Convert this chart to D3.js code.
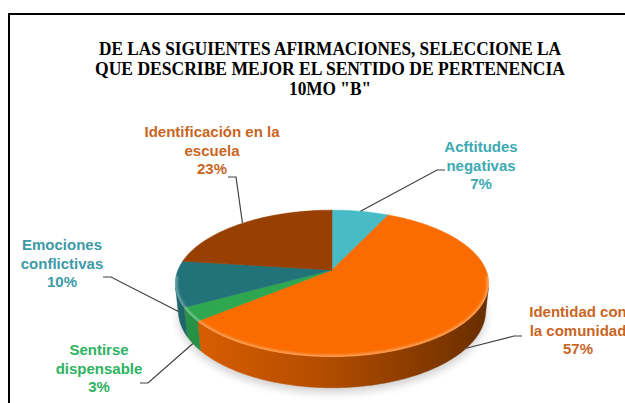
<!DOCTYPE html>
<html>
<head>
<meta charset="utf-8">
<script src="https://cdn.jsdelivr.net/npm/d3@7"></script>
<style>
  html, body { margin: 0; padding: 0; background: #fff; }
  #chart { width: 625px; height: 403px; overflow: hidden; }
</style>
</head>
<body>
<div id="chart"></div>
<script>
// datos del grafico
var categories = ["Acftitudes negativas", "Identidad con la comunidad", "Sentirse dispensable", "Emociones conflictivas", "Identificación en la escuela"];
var values = [7, 57, 3, 10, 23];
var sliceColors = ["#48BCC6", "#FA6C00", "#2FA650", "#22727A", "#983F02"];
var labelColors = ["#3DAAB3", "#C9651F", "#2DB360", "#3E9AA6", "#C9651F"];
var labelLines = [["Acftitudes", "negativas"], ["Identidad con", "la comunidad"], ["Sentirse", "dispensable"], ["Emociones", "conflictivas"], ["Identificación en la", "escuela"]];
var titleLines = ["DE LAS SIGUIENTES AFIRMACIONES, SELECCIONE LA", "QUE DESCRIBE MEJOR EL SENTIDO DE PERTENENCIA", "10MO \"B\""];
var titleWidths = [462, 470, 82];

// posicion de etiquetas (centro x, primera linea y) y punto de la linea guia
var labelPos = [
    { x: 481, y: 152, ax: 445, ay: 170 },
    { x: 578, y: 317, ax: 522, ay: 336 },
    { x: 99, y: 355, ax: 140, ay: 383 },
    { x: 62, y: 250, ax: 103, ay: 277 },
    { x: 212, y: 137, ax: 228, ay: 177 }
];

var width = 625, height = 403;
var svg = d3.select("#chart").append("svg")
    .attr("width", width)
    .attr("height", height);

var defs = svg.append("defs");
defs.append("filter").attr("id", "blur4")
    .attr("x", "-20%").attr("y", "-40%").attr("width", "140%").attr("height", "180%")
    .append("feGaussianBlur").attr("stdDeviation", 4);
defs.append("filter").attr("id", "blur1")
    .append("feGaussianBlur").attr("stdDeviation", 1.2);

// marco
svg.append("rect")
    .attr("x", 9).attr("y", 14)
    .attr("width", 700).attr("height", 500)
    .attr("fill", "none")
    .attr("stroke", "#000")
    .attr("stroke-width", 2);

// titulo
svg.append("g").selectAll("text")
    .data(titleLines)
    .enter().append("text")
    .attr("x", 330)
    .attr("y", function (d, i) { return 55 + i * 20; })
    .attr("text-anchor", "middle")
    .attr("textLength", function (d, i) { return titleWidths[i]; })
    .attr("lengthAdjust", "spacingAndGlyphs")
    .style("font-family", "'Liberation Serif', 'Times New Roman', serif")
    .style("font-weight", "bold")
    .style("font-size", "18.5px")
    .attr("fill", "#000")
    .text(function (d) { return d; });

/* pastel 3D con perspectiva */
var cx = 332, cy = 270, R = 154, depth = 31, camD = 745;
var tilt = 27.4 * Math.PI / 180, sa = Math.sin(tilt), ca = Math.cos(tilt);

function proj(theta, yy) {
    var x = R * Math.sin(theta), z = -R * Math.cos(theta);
    var v = z * sa - yy * ca;
    var w = z * ca + yy * sa;
    var s = camD / (camD - w);
    return [cx + x * s, cy + v * s];
}

function arcPoints(a0, a1, yy) {
    var n = Math.max(2, Math.ceil((a1 - a0) / 0.02));
    return d3.range(n + 1).map(function (i) { return proj(a0 + (a1 - a0) * i / n, yy); });
}

var pie = d3.pie().sort(null).value(function (d) { return d; });
var arcs = pie(values);

// zona visible de la pared lateral
var visA = Math.acos(-R / (camD * ca));
var visB = 2 * Math.PI - visA;

var line = d3.line();

// sombra
svg.append("path")
    .attr("d", line(arcPoints(0, 2 * Math.PI, -depth)) + "Z")
    .attr("fill", "#000")
    .attr("opacity", 0.18)
    .attr("transform", "translate(0,5)")
    .attr("filter", "url(#blur4)");

// gradientes de la pared
arcs.forEach(function (a, i) {
    var base = d3.color(sliceColors[i]);
    var g = defs.append("linearGradient")
        .attr("id", "side" + i)
        .attr("gradientUnits", "userSpaceOnUse")
        .attr("x1", cx - R).attr("x2", cx + R)
        .attr("y1", 0).attr("y2", 0);
    g.append("stop").attr("offset", "0%").attr("stop-color", base.darker(0.35));
    g.append("stop").attr("offset", "45%").attr("stop-color", base.darker(0.9));
    g.append("stop").attr("offset", "100%").attr("stop-color", base.darker(2.4));
});

// paredes
svg.append("g").selectAll("path")
    .data(arcs.filter(function (a) {
        return Math.min(a.endAngle, visB) > Math.max(a.startAngle, visA);
    }))
    .enter().append("path")
    .attr("d", function (a) {
        var a0 = Math.max(a.startAngle, visA), a1 = Math.min(a.endAngle, visB);
        var top = arcPoints(a0, a1, 0);
        var bot = arcPoints(a0, a1, -depth).reverse();
        return line(top.concat(bot)) + "Z";
    })
    .attr("fill", function (a) { return "url(#side" + a.index + ")"; })
    .attr("stroke", function (a) { return "url(#side" + a.index + ")"; })
    .attr("stroke-width", 0.5);

// caras superiores
svg.append("g").selectAll("path")
    .data(arcs)
    .enter().append("path")
    .attr("d", function (a) {
        var pts = [[cx, cy]].concat(arcPoints(a.startAngle, a.endAngle, 0));
        return line(pts) + "Z";
    })
    .attr("fill", function (a, i) { return sliceColors[i]; })
    .attr("stroke", function (a, i) { return sliceColors[i]; })
    .attr("stroke-width", 0.5);

// brillo del borde frontal
var clip = defs.append("clipPath").attr("id", "topclip");
clip.append("path").attr("d", line(arcPoints(0, 2 * Math.PI, 0)) + "Z");
svg.append("path")
    .attr("d", line(arcPoints(visA - 0.15, visB + 0.15, 0)))
    .attr("fill", "none")
    .attr("stroke", "#fff")
    .attr("stroke-opacity", 0.35)
    .attr("stroke-width", 4)
    .attr("clip-path", "url(#topclip)")
    .attr("filter", "url(#blur1)");

// lineas guia
svg.append("g").selectAll("path")
    .data(arcs)
    .enter().append("path")
    .attr("d", function (a, i) {
        var mid = (a.startAngle + a.endAngle) / 2;
        var p = Math.cos(mid) < 0 ? proj(mid, -depth) : proj(mid, 0);
        var lp = labelPos[i];
        var dir = p[0] > lp.ax ? 1 : -1;
        return line([[lp.ax, lp.ay], [lp.ax + dir * 8, lp.ay], p]);
    })
    .attr("fill", "none")
    .attr("stroke", "#404040")
    .attr("stroke-width", 1.2);

// etiquetas
var labels = svg.append("g").selectAll("text")
    .data(arcs)
    .enter().append("text")
    .attr("text-anchor", "middle")
    .style("font-family", "'Liberation Sans', Arial, sans-serif")
    .style("font-weight", "bold")
    .style("font-size", "15px")
    .attr("fill", function (a, i) { return labelColors[i]; });

labels.each(function (a, i) {
    var t = d3.select(this);
    var lines = labelLines[i].concat([a.data + "%"]);
    lines.forEach(function (s, j) {
        t.append("tspan")
            .attr("x", labelPos[i].x)
            .attr("y", labelPos[i].y + j * 18.5)
            .text(s);
    });
});
</script>
</body>
</html>
